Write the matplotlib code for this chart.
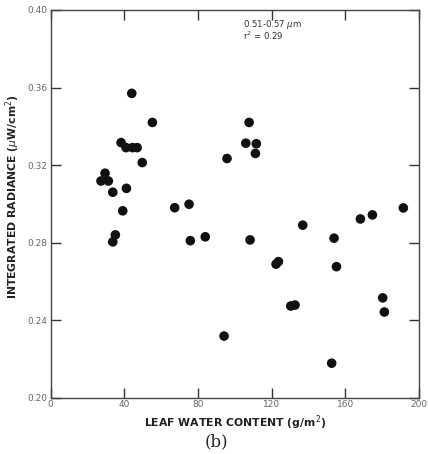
import matplotlib
matplotlib.use("Agg")
import matplotlib.pyplot as plt

leaf_water = [44.1, 55.3, 38.3, 41.0, 44.5, 47.0, 49.8, 29.6, 27.4, 31.4, 33.8, 41.2, 39.2,
              67.4, 75.2, 107.8, 106.0, 111.7, 111.2, 95.8, 136.9, 168.2, 174.7, 191.5,
              33.8, 35.2, 75.9, 84.0, 108.3, 153.9, 122.4, 123.7, 155.2, 130.4, 132.7,
              180.3, 181.2, 94.2, 152.6]
radiance = [0.357, 0.342, 0.3316, 0.329, 0.329, 0.329, 0.3213, 0.3158, 0.3118, 0.3118, 0.306, 0.308, 0.2964,
            0.298, 0.2998, 0.342, 0.3313, 0.331, 0.326, 0.3234, 0.289, 0.2922, 0.2943, 0.2979,
            0.2804, 0.284, 0.281, 0.283, 0.2814, 0.2823, 0.2689, 0.2702, 0.2676, 0.2473, 0.2478,
            0.2515, 0.2442, 0.2318, 0.2178]

x_ticks = [0, 40, 80, 120, 160, 200]
y_ticks = [0.20, 0.24, 0.28, 0.32, 0.36, 0.40]
y_tick_labels = ["0.20", "0.24", "0.28", "0.32", "0.36", "0.40"]

fig = plt.figure(figsize=(4.28, 4.54), dpi=100)
ax = fig.add_axes([50.5/428, 1 - 397.7/454, (419 - 50.5)/428, (397.7 - 10)/454])

ax.scatter(leaf_water, radiance, s=48, color="#111111", edgecolors="none", zorder=3)

ax.set_xlim(0, 200)
ax.set_ylim(0.20, 0.40)
ax.set_xticks(x_ticks)
ax.set_yticks(y_ticks)
ax.set_yticklabels(y_tick_labels)
ax.tick_params(direction="in", length=7, width=1, color="#333333",
               labelsize=6.5, labelcolor="#666666", top=True, right=True,
               labeltop=False, labelright=False, pad=2)
for sp in ax.spines.values():
    sp.set_color("#444444")
    sp.set_linewidth(1)

ax.set_xlabel(r"LEAF WATER CONTENT (g/m$^2$)", fontsize=7.8, fontweight="bold",
              color="#222222")
ax.xaxis.set_label_coords(0.5, -0.040)
ax.set_ylabel(r"INTEGRATED RADIANCE ($\mu$W/cm$^2$)", fontsize=7.8, fontweight="bold",
              color="#222222")
ax.yaxis.set_label_coords(-0.078, 0.518)

ax.text(0.522, 0.962, "0.51-0.57 $\\mu$m", transform=ax.transAxes, fontsize=6.2,
        color="#333333", va="center", ha="left")
ax.text(0.522, 0.933, "r$^2$ = 0.29", transform=ax.transAxes, fontsize=6.2,
        color="#333333", va="center", ha="left")

fig.text(216/428, 1 - 442/454, "(b)", fontsize=12, family="DejaVu Serif",
         ha="center", va="center", color="#222222")

fig.savefig("out.png", dpi=100)
